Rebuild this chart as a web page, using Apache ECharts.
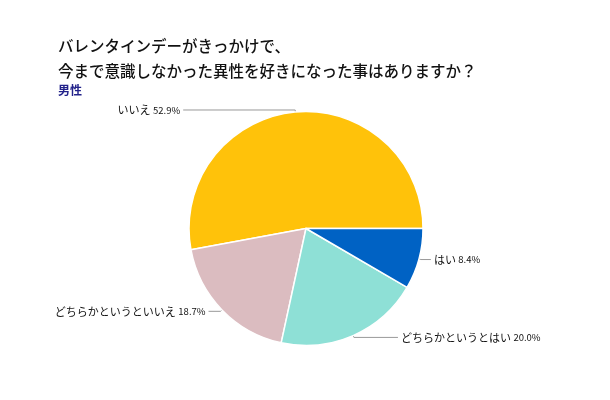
<!DOCTYPE html>
<html><head><meta charset="utf-8">
<script src="https://cdn.jsdelivr.net/npm/echarts@6/dist/echarts.min.js"></script>
<style>html,body{margin:0;padding:0;background:#fff}#c{width:610px;height:400px}</style>
</head><body><div id="c"></div>
<script>
const categories = ['いいえ', 'どちらかというといいえ', 'どちらかというとはい', 'はい'];
const values = [52.9, 18.7, 20.0, 8.4];
const colors = ['#ffc20a', '#dbbcc0', '#8ee0d6', '#0062c4'];
const lineLen2 = [112, 12, 44, 10];

const chart = echarts.init(document.getElementById('c'), null, {renderer: 'canvas'});
const data = categories.map((c, i) => ({
  name: c, value: values[i],
  itemStyle: {color: colors[i]},
  labelLine: {length: 2, length2: lineLen2[i]}
}));
chart.setOption({
  backgroundColor: '#fff',
  animation: false,
  title: {
    text: 'バレンタインデーがきっかけで、\n今まで意識しなかった異性を好きになった事はありますか？',
    subtext: '男性',
    left: 53, top: 29,
    itemGap: 0,
    textStyle: {fontFamily: 'Noto Sans CJK JP', fontSize: 15.5, fontWeight: 500, color: '#111', lineHeight: 25},
    subtextStyle: {fontFamily: 'Noto Sans CJK JP', fontSize: 12, fontWeight: 'bold', color: '#22228a'}
  },
  series: [{
    type: 'pie',
    center: [306, 228.5],
    radius: 117,
    startAngle: 0,
    clockwise: false,
    avoidLabelOverlap: false,
    data: data,
    itemStyle: {borderColor: '#fff', borderWidth: 1.5},
    label: {
      show: true,
      position: 'outside',
      distanceToLabelLine: 3,
      fontFamily: 'Noto Sans CJK JP',
      fontSize: 11,
      color: '#111',
      formatter: p => '{n|' + p.name + '} {p|' + p.value.toFixed(1) + '%}',
      rich: {
        n: {fontFamily: 'Noto Sans CJK JP', fontSize: 11, color: '#111'},
        p: {fontFamily: 'Noto Sans CJK JP', fontSize: 9.5, color: '#111'}
      }
    },
    labelLine: {show: true, lineStyle: {color: '#999', width: 1}, smooth: false},
    emphasis: {disabled: true}
  }]
});
</script></body></html>
